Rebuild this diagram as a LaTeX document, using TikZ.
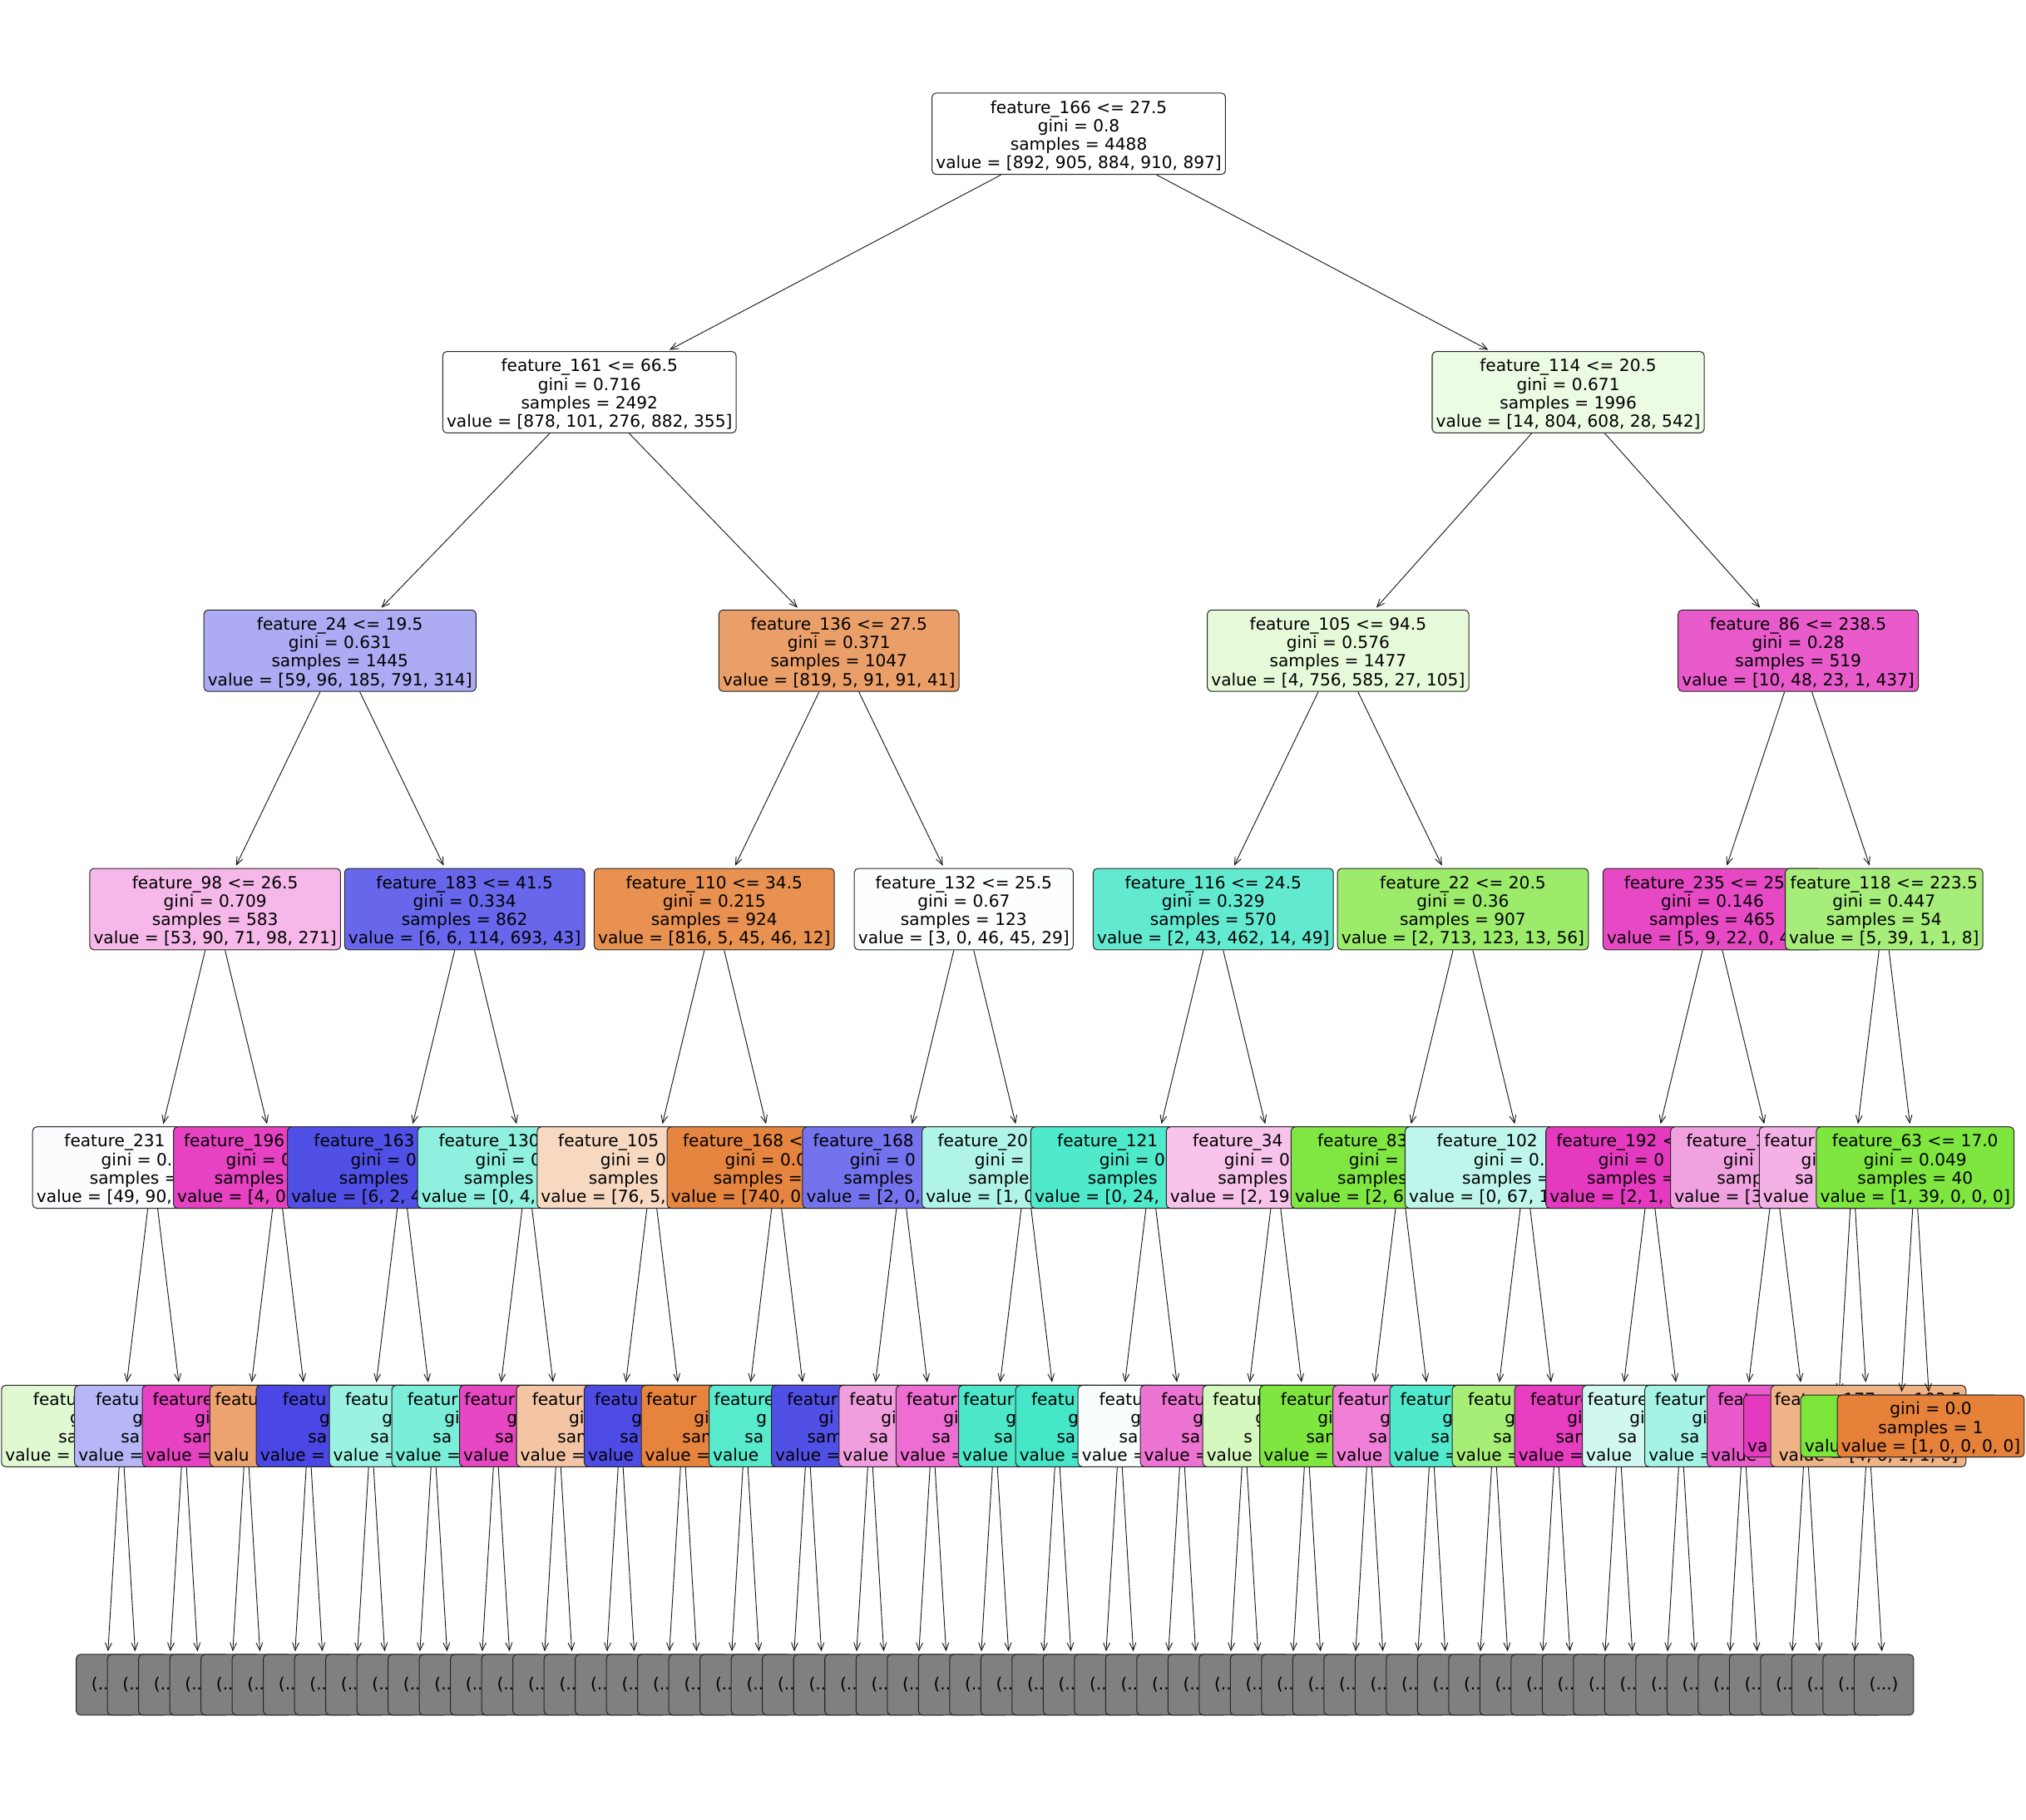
\documentclass[tikz,border=0pt]{standalone}
\usepackage{fontspec}
\setmainfont{DejaVu Sans}
\usetikzlibrary{arrows.meta}
\newcommand{\hd}[1]{\phantom{#1}}
\newcommand{\zzg}{\hd{ini~=~0.000}}
\newcommand{\zzgi}{\hd{ni~=~0.000}}
\newcommand{\zzsa}{\hd{mples~=~000}}
\newcommand{\zzsam}{\hd{ples~=~000}}
\newcommand{\zzs}{\hd{amples~=~000}}
\newcommand{\zzv}[1]{\hd{~=~[#1]}}
\newcommand{\zzve}[1]{\hd{~[#1]}}
\newcommand{\zst}{\rule{0pt}{12.8pt}}
\tikzset{
  tbox/.style={draw=black!85, line width=0.65pt, rounded corners=3.2pt, align=center,
    inner xsep=3pt, inner ysep=0pt, minimum height=63pt,
    font=\fontsize{12.95}{14.3}\selectfont},
  leafbox/.style={minimum height=48pt},
  greybox/.style={draw=black!85, line width=0.65pt, rounded corners=3.2pt,
    fill={rgb,255:red,128;green,128;blue,128}, minimum width=46pt, minimum height=47pt,
    inner sep=0pt, font=\fontsize{12.95}{14.3}\selectfont},
  arr/.style={draw=black!90, line width=0.6pt, -{Straight Barb[length=6pt,width=5pt]}, shorten >=2pt},
}
\newcommand{\TN}[5]{\definecolor{tmpc}{HTML}{#4}\node[tbox,fill=tmpc] (#1) at (#2,#3) {\zst#5};}
\newcommand{\TL}[5]{\definecolor{tmpc}{HTML}{#4}\node[tbox,leafbox,fill=tmpc] (#1) at (#2,#3) {\zst#5};}
\newcommand{\TE}[2]{\draw[arr] (#1) -- (#2);}
\begin{document}
\begin{tikzpicture}[x=1pt,y=-1pt]
\useasboundingbox (0,0) rectangle (1568,1408.3);
\fill[white] (0,0) rectangle (1568,1408.3);
% level 0
\TN{p0}{834.9}{103.5}{FFFFFF}{feature\_166 <= 27.5\\gini = 0.8\\samples = 4488\\value = [892, 905, 884, 910, 897]}
% level 1
\TN{p1-0}{456.2}{303.5}{FFFFFF}{feature\_161 <= 66.5\\gini = 0.716\\samples = 2492\\value = [878, 101, 276, 882, 355]}\TE{p0}{p1-0}
\TN{p1-1}{1213.7}{303.5}{ECFBE3}{feature\_114 <= 20.5\\gini = 0.671\\samples = 1996\\value = [14, 804, 608, 28, 542]}\TE{p0}{p1-1}
% level 2
\TN{p2-0}{263.1}{503.5}{ADABF4}{feature\_24 <= 19.5\\gini = 0.631\\samples = 1445\\value = [59, 96, 185, 791, 314]}\TE{p1-0}{p2-0}
\TN{p2-1}{649.3}{503.5}{EB9F68}{feature\_136 <= 27.5\\gini = 0.371\\samples = 1047\\value = [819, 5, 91, 91, 41]}\TE{p1-0}{p2-1}
\TN{p2-2}{1035.6}{503.5}{E6FAD9}{feature\_105 <= 94.5\\gini = 0.576\\samples = 1477\\value = [4, 756, 585, 27, 105]}\TE{p1-1}{p2-2}
\TN{p2-3}{1391.7}{503.5}{E95BCB}{feature\_86 <= 238.5\\gini = 0.28\\samples = 519\\value = [10, 48, 23, 1, 437]}\TE{p1-1}{p2-3}
% level 3
\TN{p3-0}{166.5}{703.5}{F6B8E9}{feature\_98 <= 26.5\\gini = 0.709\\samples = 583\\value = [53, 90, 71, 98, 271]}\TE{p2-0}{p3-0}
\TN{p3-1}{359.6}{703.5}{6866EB}{feature\_183 <= 41.5\\gini = 0.334\\samples = 862\\value = [6, 6, 114, 693, 43]}\TE{p2-0}{p3-1}
\TN{p3-2}{552.8}{703.5}{E89151}{feature\_110 <= 34.5\\gini = 0.215\\samples = 924\\value = [816, 5, 45, 46, 12]}\TE{p2-1}{p3-2}
\TN{p3-3}{745.9}{703.5}{FCFFFE}{feature\_132 <= 25.5\\gini = 0.67\\samples = 123\\value = [3, 0, 46, 45, 29]}\TE{p2-1}{p3-3}
\TN{p3-4}{939.0}{703.5}{62EAD1}{feature\_116 <= 24.5\\gini = 0.329\\samples = 570\\value = [2, 43, 462, 14, 49]}\TE{p2-2}{p3-4}
\TN{p3-5}{1132.2}{703.5}{9CEB6A}{feature\_22 <= 20.5\\gini = 0.36\\samples = 907\\value = [2, 713, 123, 13, 56]}\TE{p2-2}{p3-5}
\TN{p3-6}{1325.3}{703.5}{E749C5}{feature\_235 <= 25\hd{.5}\\gini = 0.146\\samples = 465\\value = [5, 9, 22, 0, 4\hd{29]}}\TE{p2-3}{p3-6}
\TN{p3-7}{1458.1}{703.5}{A6ED7A}{feature\_118 <= 223.5\\gini = 0.447\\samples = 54\\value = [5, 39, 1, 1, 8]}\TE{p2-3}{p3-7}
% level 4
\TN{p4-0}{118.2}{903.5}{FCFCFF}{feature\_231\hd{~<=~00.0}\\gini = 0.\hd{000}\\samples =\hd{~000}\\value = [49, 90,\hd{~00, 00, 00]}}\TE{p3-0}{p4-0}
\TN{p4-1}{214.8}{903.5}{E642C2}{feature\_196\hd{~<=~000.0}\\gini = 0\hd{.000}\\samples\hd{~=~000}\\value = [4, 0\hd{, 0, 0, 000]}}\TE{p3-0}{p4-1}
\TN{p4-2}{311.3}{903.5}{5150E6}{feature\_163\hd{~<=~00.0}\\gini = 0\hd{.000}\\samples\hd{~=~000}\\value = [6, 2, 4\hd{0, 000, 00]}}\TE{p3-1}{p4-2}
\TN{p4-3}{407.9}{903.5}{8FF0DF}{feature\_130\hd{~<=~00.0}\\gini = 0\hd{.000}\\samples\hd{~=~000}\\value = [0, 4,\hd{~00, 00, 00]}}\TE{p3-1}{p4-3}
\TN{p4-4}{504.5}{903.5}{F7D8C1}{feature\_105\hd{~<=~000.0}\\gini = 0\hd{.000}\\samples\hd{~=~000}\\value = [76, 5,\hd{~00, 00, 00]}}\TE{p3-2}{p4-4}
\TN{p4-5}{601.0}{903.5}{E6853F}{feature\_168 <\hd{=~000.0}\\gini = 0.0\hd{00}\\samples =\hd{~000}\\value = [740, 0\hd{, 0, 00, 0]}}\TE{p3-2}{p4-5}
\TN{p4-6}{697.6}{903.5}{7472EC}{feature\_168\hd{~<=~00.0}\\gini = 0\hd{.000}\\samples\hd{~=~00}\\value = [2, 0,\hd{~0, 00, 0]}}\TE{p3-3}{p4-6}
\TN{p4-7}{794.2}{903.5}{B0F4E7}{feature\_20\hd{0~<=~00.0}\\gini =\hd{~0.000}\\sample\hd{s~=~00}\\value = [1, 0\hd{, 00, 0, 00]}}\TE{p3-3}{p4-7}
\TN{p4-8}{890.7}{903.5}{4FE9CB}{feature\_121\hd{~<=~000.0}\\gini = 0\hd{.000}\\samples\hd{~=~000}\\value = [0, 24,\hd{~000, 00, 00]}}\TE{p3-4}{p4-8}
\TN{p4-9}{987.3}{903.5}{F7C3EB}{feature\_34\hd{~<=~00.0}\\gini = 0\hd{.000}\\samples\hd{~=~00}\\value = [2, 19\hd{, 00, 0, 00]}}\TE{p3-4}{p4-9}
\TN{p4-10}{1083.9}{903.5}{80E641}{feature\_83\hd{~<=~00.0}\\gini =\hd{~0.000}\\samples\hd{~=~000}\\value = [2, 6\hd{0, 00, 0, 00]}}\TE{p3-5}{p4-10}
\TN{p4-11}{1180.4}{903.5}{BEF6EC}{feature\_102\hd{~<=~00.0}\\gini = 0.\hd{000}\\samples =\hd{~000}\\value = [0, 67, 1\hd{00, 00, 00]}}\TE{p3-5}{p4-11}
\TN{p4-12}{1277.0}{903.5}{E53AC0}{feature\_192 <\hd{=~000.0}\\gini = 0\hd{.000}\\samples =\hd{~000}\\value = [2, 1,\hd{~0, 0, 000]}}\TE{p3-6}{p4-12}
\TN{p4-13}{1373.5}{903.5}{F0A1DF}{feature\_1\hd{00~<=~00.0}\\gini\hd{~=~0.000}\\samp\hd{les~=~00}\\value = [3\hd{, 0, 00, 0, 00]}}\TE{p3-6}{p4-13}
\TN{p4-14}{1433.9}{903.5}{F4B1E6}{featur\hd{e\_000~<=~00.0}\\gi\hd{ni~=~0.582}\\sa\hd{mples~=~14}\\value\hd{~=~[4, 0, 1, 1, 8]}}\TE{p3-7}{p4-14}
\TN{p4-15}{1482.2}{903.5}{7EE63E}{feature\_63 <= 17.0\\gini = 0.049\\samples = 40\\value = [1, 39, 0, 0, 0]}\TE{p3-7}{p4-15}
% level 5
\TN{p5-0}{94.1}{1103.5}{E1F9D2}{featu\hd{re\_000~<=~00.0}\\g\zzg\\sa\zzsa\\value =\zzve{00, 00, 00, 00, 00}}\TE{p4-0}{p5-0}
\TN{p5-1}{142.4}{1103.5}{B7B6F6}{featu\hd{re\_000~<=~00.0}\\g\zzg\\sa\zzsa\\value =\zzve{0, 00, 00, 00, 0}}\TE{p4-0}{p5-1}
\TN{p5-2}{190.7}{1103.5}{E642C1}{feature\hd{\_000~<=~000.0}\\gi\zzgi\\sam\zzsam\\value =\zzve{0, 00, 0, 00, 0}}\TE{p4-1}{p5-2}
\TN{p5-3}{238.9}{1103.5}{ECA36F}{featu\hd{re\_000~<=~000.0}\\\hd{gini~=~0.000}\\\hd{samples~=~000}\\valu\hd{e~=~[0, 00, 0, 0, 0]}}\TE{p4-1}{p5-3}
\TN{p5-4}{287.2}{1103.5}{4A47E4}{featu\hd{re\_000~<=~00.0}\\g\zzg\\sa\zzsa\\value =\zzve{0, 00, 00, 00, 00}}\TE{p4-2}{p5-4}
\TN{p5-5}{335.5}{1103.5}{9BF2E2}{featu\hd{re\_000~<=~00.0}\\g\zzg\\sa\zzsa\\value =\zzve{0, 00, 0, 00, 0}}\TE{p4-2}{p5-5}
\TN{p5-6}{383.8}{1103.5}{7BEED9}{featur\hd{e\_000~<=~00.0}\\gi\zzgi\\sa\zzsa\\value =\zzve{0, 00, 0, 00, 0}}\TE{p4-3}{p5-6}
\TN{p5-7}{432.1}{1103.5}{E647C2}{featur\hd{e\_000~<=~000.0}\\g\zzg\\sa\zzsa\\value\zzv{0, 00, 0, 0, 0}}\TE{p4-3}{p5-7}
\TN{p5-8}{480.3}{1103.5}{F3C5A5}{featur\hd{e\_000~<=~00.0}\\gi\zzgi\\sam\zzsam\\value =\zzve{0, 00, 0, 00, 0}}\TE{p4-4}{p5-8}
\TN{p5-9}{528.6}{1103.5}{4E4BE5}{featu\hd{re\_000~<=~00.0}\\g\zzg\\sa\zzsa\\value\zzv{0, 00, 0, 0, 0}}\TE{p4-4}{p5-9}
\TN{p5-10}{576.9}{1103.5}{E6843E}{featur\hd{e\_000~<=~0000.0}\\gi\zzgi\\sam\zzsam\\value =\zzve{0, 00, 0, 00, 0}}\TE{p4-5}{p5-10}
\TN{p5-11}{625.2}{1103.5}{58EACD}{feature\hd{\_000~<=~000.0}\\g\zzg\\sa\zzsa\\value\zzv{0, 00, 0, 0, 0}}\TE{p4-5}{p5-11}
\TN{p5-12}{673.5}{1103.5}{5150E6}{featur\hd{e\_00~<=~00.0}\\gi\zzgi\\sam\zzsam\\value =\zzve{0, 00, 0, 0, 0}}\TE{p4-6}{p5-12}
\TN{p5-13}{721.7}{1103.5}{F19EDF}{featu\hd{re\_00~<=~00.0}\\gi\zzgi\\sa\zzsa\\value\zzv{0, 0, 0, 0, 0}}\TE{p4-6}{p5-13}
\TN{p5-14}{770.0}{1103.5}{ED6DD3}{featur\hd{e\_000~<=~00.0}\\gi\zzgi\\sa\zzsa\\value =\zzve{0, 00, 0, 0, 0}}\TE{p4-7}{p5-14}
\TN{p5-15}{818.3}{1103.5}{4DE8CA}{featur\hd{e\_000~<=~000.0}\\g\zzg\\sa\zzsa\\value\zzv{0, 00, 0, 0, 0}}\TE{p4-7}{p5-15}
\TN{p5-16}{866.6}{1103.5}{45E7C8}{featu\hd{re\_000~<=~00.0}\\g\zzg\\sa\zzsa\\value =\zzve{0, 00, 0, 00, 0}}\TE{p4-8}{p5-16}
\TN{p5-17}{914.9}{1103.5}{F7FEFC}{featu\hd{re\_00~<=~00.0}\\g\zzg\\sa\zzsa\\value =\zzve{0, 00, 0, 00, 0}}\TE{p4-8}{p5-17}
\TN{p5-18}{963.1}{1103.5}{EE74D4}{featu\hd{re\_00~<=~00.0}\\g\zzg\\sa\zzsa\\value =\zzve{0, 00, 0, 00, 0}}\TE{p4-9}{p5-18}
\TN{p5-19}{1011.4}{1103.5}{D4F8BE}{featur\hd{e\_000~<=~000.0}\\g\zzg\\s\zzs\\value\zzv{0, 00, 0, 00, 0}}\TE{p4-9}{p5-19}
\TN{p5-20}{1059.7}{1103.5}{7EE63F}{featur\hd{e\_000~<=~00.0}\\gi\zzgi\\sam\zzsam\\value =\zzve{0, 00, 00, 00, 0}}\TE{p4-10}{p5-20}
\TN{p5-21}{1108.0}{1103.5}{F07FD7}{featur\hd{e\_000~<=~000.0}\\g\zzg\\sa\zzsa\\value\zzv{0, 00, 0, 0, 0}}\TE{p4-10}{p5-21}
\TN{p5-22}{1156.3}{1103.5}{51E9CB}{featur\hd{e\_000~<=~000.0}\\g\zzg\\sa\zzsa\\value =\zzve{0, 00, 0, 00, 0}}\TE{p4-11}{p5-22}
\TN{p5-23}{1204.5}{1103.5}{A6EE75}{featu\hd{re\_000~<=~00.0}\\g\zzg\\sa\zzsa\\value =\zzve{0, 00, 0, 00, 0}}\TE{p4-11}{p5-23}
\TN{p5-24}{1252.8}{1103.5}{E63DC1}{feature\hd{\_000~<=~00.0}\\gi\zzgi\\sam\zzsam\\value =\zzve{0, 00, 0, 00, 0}}\TE{p4-12}{p5-24}
\TN{p5-25}{1301.1}{1103.5}{D0F8F1}{feature\hd{\_000~<=~000.0}\\gi\zzgi\\sa\zzsa\\value\zzv{0, 00, 0, 0, 0}}\TE{p4-12}{p5-25}
\TN{p5-26}{1349.4}{1103.5}{A4F3E5}{featur\hd{e\_000~<=~00.0}\\gi\zzgi\\sa\zzsa\\value =\zzve{0, 00, 0, 0, 0}}\TE{p4-13}{p5-26}
\TN{p5-27}{1397.7}{1103.5}{E95BCB}{feat\hd{ure\_000~<=~00.0}\\\hd{gini~=~0.000}\\\hd{samples~=~000}\\value\zzv{0, 00, 0, 0, 0}}\TE{p4-13}{p5-27}
\TL{p5-28}{1421.8}{1103.5}{E539C0}{\hd{gini~=~0.0}\\\hd{samples~=~8}\\va\hd{lue~=~[0, 0, 0, 0, 8]}}\TE{p4-14}{p5-28}
\TN{p5-29}{1446.0}{1103.5}{EFB388}{feature\_177 <= 103.5\\\hd{gini~=~0.5}\\\hd{samples~=~6}\\value = [4, 0, 1, 1, 0]}\TE{p4-14}{p5-29}
\TL{p5-30}{1470.1}{1103.5}{7BE539}{\hd{gini~=~0.0}\\\hd{samples~=~39}\\valu\hd{e~=~[0, 39, 0, 0, 0]}}\TE{p4-15}{p5-30}
\TL{p5-31}{1494.3}{1103.5}{E58139}{gini = 0.0\\samples = 1\\value = [1, 0, 0, 0, 0]}\TE{p4-15}{p5-31}
% level 6 (truncated subtrees)
\foreach \k in {0,...,57}{
  \pgfmathsetmacro{\gx}{82+24.14*\k}
  \pgfmathtruncatemacro{\gp}{\k<56 ? int(\k/2) : 29}
  \node[greybox] (g-\k) at (\gx,1303.7) {\ifnum\k=57 (...)\else(..\hd{.)}\fi};
  \draw[arr] (p5-\gp) -- (g-\k);
}
\end{tikzpicture}
\end{document}
